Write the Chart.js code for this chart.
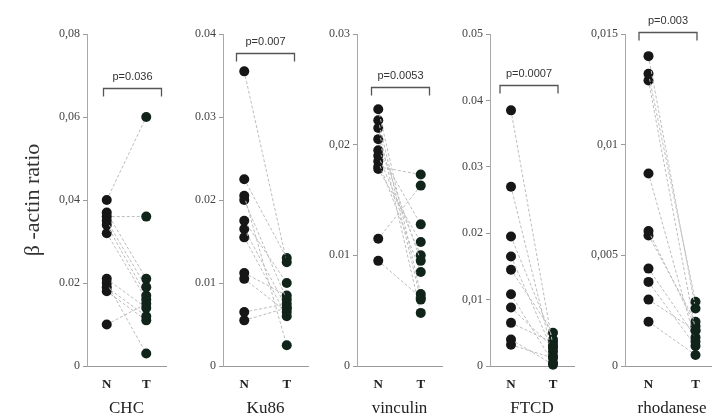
<!DOCTYPE html>
<html>
<head>
<meta charset="utf-8">
<script src="https://cdn.jsdelivr.net/npm/chart.js@4"></script>
<style>
  html, body { margin: 0; padding: 0; background: #fff; overflow: hidden; }
  #wrap { position: relative; width: 712px; height: 420px; overflow: hidden; }
  canvas { position: absolute; top: 0; }
</style>
</head>
<body>
<div id="wrap">
  <canvas id="chc"></canvas>
  <canvas id="ku86"></canvas>
  <canvas id="vinculin"></canvas>
  <canvas id="ftcd"></canvas>
  <canvas id="rhodanese"></canvas>
</div>
<script>
// paired samples, normal (N) vs tumour (T)
const groups = ['N', 'T'];

const chcN = [0.040, 0.036, 0.037, 0.035, 0.034, 0.032, 0.021, 0.020, 0.019, 0.018, 0.010];
const chcT = [0.060, 0.036, 0.021, 0.019, 0.017, 0.016, 0.014, 0.003, 0.012, 0.011, 0.015];
const chcTicks = [0, 0.02, 0.04, 0.06, 0.08];
const chcTickLabels = ['0', '0.02', '0,04', '0,06', '0,08'];

const kuN = [0.0355, 0.0225, 0.0205, 0.0200, 0.0175, 0.0165, 0.0155, 0.0112, 0.0105, 0.0065, 0.0055];
const kuT = [0.0125, 0.0130, 0.0025, 0.0080, 0.0100, 0.0070, 0.0060, 0.0085, 0.0065, 0.0075, 0.0070];
const kuTicks = [0, 0.01, 0.02, 0.03, 0.04];
const kuTickLabels = ['0', '0.01', '0.02', '0.03', '0.04'];

const vinN = [0.0232, 0.0222, 0.0215, 0.0205, 0.0195, 0.0190, 0.0185, 0.0180, 0.0178, 0.0115, 0.0095];
const vinT = [0.0065, 0.0060, 0.0048, 0.0095, 0.0128, 0.0100, 0.0085, 0.0173, 0.0112, 0.0163, 0.0062];
const vinTicks = [0, 0.01, 0.02, 0.03];
const vinTickLabels = ['0', '0.01', '0,02', '0.03'];

const ftcdN = [0.0385, 0.0270, 0.0195, 0.0165, 0.0145, 0.0108, 0.0088, 0.0065, 0.0040, 0.0032];
const ftcdT = [0.0030, 0.0015, 0.0040, 0.0022, 0.0050, 0.0005, 0.0028, 0.0035, 0.0002, 0.0012];
const ftcdTicks = [0, 0.01, 0.02, 0.03, 0.04, 0.05];
const ftcdTickLabels = ['0', '0,01', '0.02', '0.03', '0.04', '0.05'];

const rhoN = [0.0140, 0.0132, 0.0129, 0.0087, 0.0061, 0.0059, 0.0044, 0.0038, 0.0030, 0.0020];
const rhoT = [0.0026, 0.0029, 0.0016, 0.0011, 0.0018, 0.0020, 0.0013, 0.0009, 0.0016, 0.0005];
const rhoTicks = [0, 0.005, 0.01, 0.015];
const rhoTickLabels = ['0', '0,005', '0,01', '0,015'];

const pValues = ['p=0.036', 'p=0.007', 'p=0.0053', 'p=0.0007', 'p=0.003'];
// height of the p-value bracket, in each panel's own units
const bracketAt = [0.067, 0.0377, 0.0252, 0.0423, 0.0151];

Chart.defaults.font.family = '"Liberation Serif", "Times New Roman", serif';
Chart.defaults.color = '#333';

// bracket + p value over the two columns
const bracket = {
  id: 'bracket',
  afterDatasetsDraw(chart, args, opts) {
    const { ctx, scales: { x, y } } = chart;
    const mid = (x.getPixelForValue(0) + x.getPixelForValue(1)) / 2 + opts.shift;
    const half = 29;
    const by = Math.round(y.getPixelForValue(opts.at)) + 0.5;
    ctx.save();
    ctx.strokeStyle = '#555';
    ctx.lineWidth = 1.3;
    ctx.beginPath();
    ctx.moveTo(mid - half, by + 8);
    ctx.lineTo(mid - half, by);
    ctx.lineTo(mid + half, by);
    ctx.lineTo(mid + half, by + 8);
    ctx.stroke();
    ctx.fillStyle = '#333';
    ctx.font = '11px "Liberation Sans", sans-serif';
    ctx.textAlign = 'center';
    ctx.textBaseline = 'middle';
    ctx.fillText(opts.text, mid, by - 12);
    ctx.restore();
  }
};

const panels = [
  { id: 'chc', name: 'CHC', n: chcN, t: chcT, ticks: chcTicks, labels: chcTickLabels, left: 0, width: 171, axis: 87, shift: 6, title: true },
  { id: 'ku86', name: 'Ku86', n: kuN, t: kuT, ticks: kuTicks, labels: kuTickLabels, left: 175, width: 138, axis: 48, shift: 0 },
  { id: 'vinculin', name: 'vinculin', n: vinN, t: vinT, ticks: vinTicks, labels: vinTickLabels, left: 313, width: 134, axis: 44, shift: 1 },
  { id: 'ftcd', name: 'FTCD', n: ftcdN, t: ftcdT, ticks: ftcdTicks, labels: ftcdTickLabels, left: 447, width: 132, axis: 43, shift: -3 },
  { id: 'rhodanese', name: 'rhodanese', n: rhoN, t: rhoT, ticks: rhoTicks, labels: rhoTickLabels, left: 580, width: 144, axis: 45, shift: -4 }
];

panels.forEach((p, k) => {
  const canvas = document.getElementById(p.id);
  canvas.width = p.width;
  canvas.height = 420;
  canvas.style.left = p.left + 'px';

  new Chart(canvas, {
    type: 'line',
    data: {
      labels: groups,
      datasets: p.n.map((v, i) => ({
        data: [v, p.t[i]],
        borderColor: '#bcbcbc',
        borderWidth: 1,
        borderDash: [3, 2],
        pointRadius: 5,
        pointBorderWidth: 0,
        pointBackgroundColor: ['#161616', '#11241a'],
        clip: false
      }))
    },
    options: {
      responsive: false,
      animation: false,
      events: [],
      layout: { padding: { top: 34, right: 0, bottom: 0, left: 0 } },
      plugins: {
        legend: { display: false },
        tooltip: { enabled: false },
        bracket: { text: pValues[k], at: bracketAt[k], shift: p.shift }
      },
      scales: {
        x: {
          type: 'category',
          offset: true,
          grid: { drawOnChartArea: false, drawTicks: false },
          border: { color: '#9a9a9a', width: 1 },
          ticks: { padding: 11, color: '#222', font: { size: 13, weight: 'bold' } },
          title: { display: true, text: p.name, color: '#222', font: { size: 17 }, padding: { top: 0, bottom: 1 } },
          afterFit: s => { s.height = 54; }
        },
        y: {
          min: 0,
          max: p.ticks[p.ticks.length - 1],
          grid: { drawOnChartArea: false, drawTicks: true, tickLength: 4, color: '#999' },
          border: { color: '#a8a8a8', width: 1 },
          afterBuildTicks: s => { s.ticks = p.ticks.map(v => ({ value: v })); },
          ticks: {
            padding: 3,
            color: '#444',
            font: { size: 12 },
            callback: (v, i) => p.labels[i]
          },
          title: {
            display: !!p.title,
            text: 'β -actin ratio',
            color: '#333',
            font: { size: 22 },
            padding: { top: 20, bottom: 0 }
          },
          afterFit: s => { s.width = p.axis; }
        }
      }
    },
    plugins: [bracket]
  });
});
</script>
</body>
</html>
